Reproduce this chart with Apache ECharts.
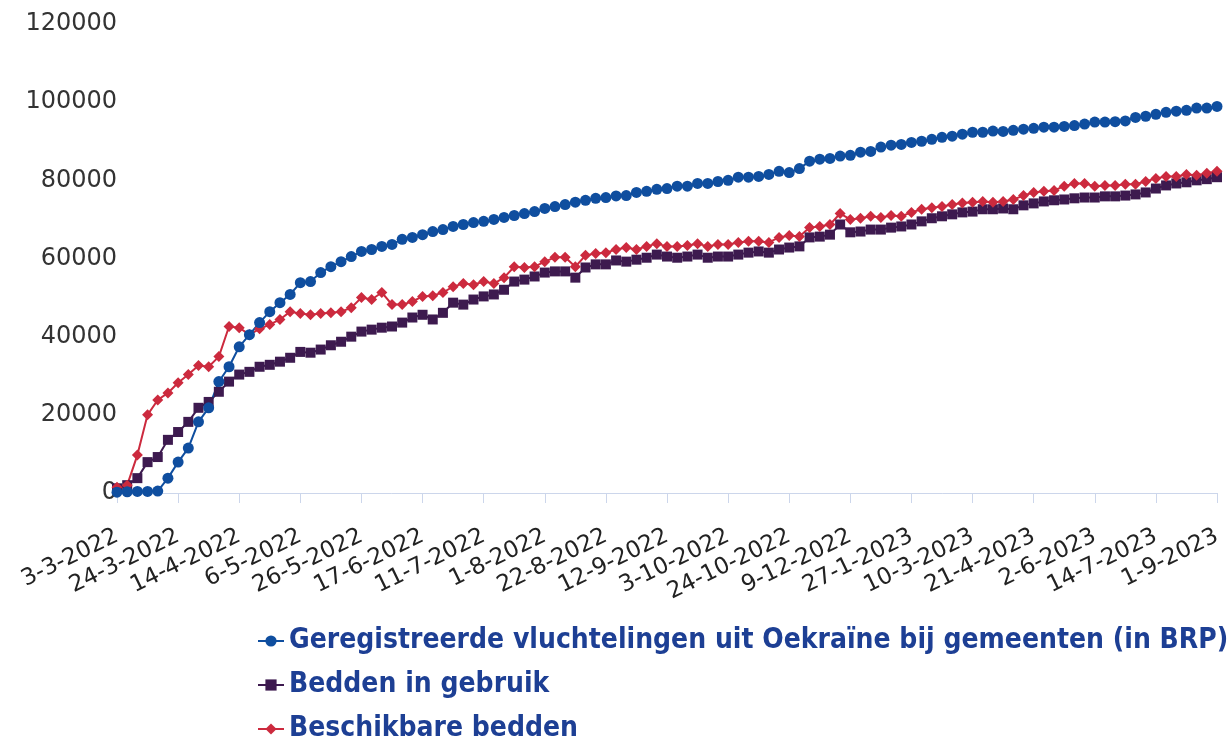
<!DOCTYPE html>
<html>
<head>
<meta charset="utf-8">
<script src="https://cdn.jsdelivr.net/npm/echarts@6/dist/echarts.min.js"></script>
<style>
  html, body { margin: 0; padding: 0; background: #fff; }
  #main { width: 1231px; height: 736px; }
</style>
</head>
<body>
<div id="main"></div>
<script>
// Labels onder de x-as (elke 6e meting)
var tickLabels = ['3-3-2022', '24-3-2022', '14-4-2022', '6-5-2022', '26-5-2022', '17-6-2022',
    '11-7-2022', '1-8-2022', '22-8-2022', '12-9-2022', '3-10-2022', '24-10-2022', '9-12-2022',
    '27-1-2023', '10-3-2023', '21-4-2023', '2-6-2023', '14-7-2023', '1-9-2023'];
var pointsPerLabel = 6;

// Geregistreerde vluchtelingen uit Oekraïne bij gemeenten (in BRP)
var geregistreerd = [200, 300, 400, 400, 500, 3800, 7900, 11500, 18200, 21800,
    28500, 32300, 37400, 40500, 43600, 46400, 48700, 50800, 53800, 54100,
    56400, 57900, 59200, 60500, 61800, 62300, 63100, 63600, 64900, 65400,
    66100, 66900, 67400, 68200, 68700, 69200, 69500, 70000, 70500, 71000,
    71500, 72000, 72800, 73300, 73800, 74400, 74900, 75400, 75600, 76000,
    76100, 76900, 77200, 77700, 77900, 78500, 78500, 79200, 79200, 79700,
    80000, 80800, 80800, 81000, 81500, 82300, 82000, 83000, 84900, 85400,
    85600, 86200, 86400, 87200, 87400, 88500, 89000, 89200, 89700, 90000,
    90500, 91000, 91300, 91800, 92300, 92300, 92600, 92500, 92800, 93100,
    93300, 93600, 93600, 93800, 94000, 94400, 94900, 94900, 95000, 95200,
    96100, 96400, 96900, 97400, 97700, 97900, 98500, 98500, 98900];

// Bedden in gebruik
var beddenInGebruik = [1200, 2000, 3800, 7900, 9200, 13600, 15600, 18200, 21800, 23300,
    25900, 28500, 30300, 31000, 32300, 32800, 33600, 34600, 36100, 35900,
    36700, 37800, 38700, 40000, 41300, 41800, 42300, 42600, 43600, 44900,
    45600, 44400, 46100, 48700, 48200, 49500, 50300, 50800, 52000, 54100,
    54600, 55400, 56400, 56700, 56700, 55100, 57700, 58500, 58500, 59500,
    59200, 59700, 60200, 61000, 60500, 60200, 60500, 61000, 60200, 60500,
    60500, 61000, 61500, 61800, 61500, 62300, 62800, 63100, 65400, 65600,
    66100, 68700, 66700, 66900, 67400, 67400, 67900, 68200, 68700, 69500,
    70300, 70800, 71300, 71800, 72000, 72600, 72600, 72800, 72600, 73600,
    74100, 74600, 74900, 75100, 75400, 75600, 75600, 75900, 75900, 76100,
    76400, 76900, 77900, 78700, 79200, 79500, 80000, 80300, 80800];

// Beschikbare bedden
var beschikbaar = [1500, 2000, 9700, 20000, 23800, 25600, 28200, 30300, 32600, 32300,
    34900, 42600, 42300, 40500, 42000, 43100, 44400, 46400, 45900, 45600,
    45900, 46100, 46400, 47400, 50000, 49500, 51300, 48200, 48200, 49000,
    50300, 50500, 51300, 52800, 53600, 53300, 54100, 53600, 55100, 57900,
    57700, 57900, 59200, 60300, 60300, 57900, 60800, 61300, 61500, 62300,
    62800, 62300, 63100, 63800, 63100, 63100, 63300, 63800, 63100, 63600,
    63600, 64100, 64400, 64400, 64100, 65400, 65900, 65600, 67900, 68200,
    68700, 71500, 70000, 70300, 70800, 70500, 71000, 70800, 71800, 72600,
    73000, 73300, 73800, 74200, 74400, 74600, 74400, 74600, 75100, 76100,
    76900, 77200, 77400, 78500, 79200, 79200, 78500, 78700, 78700, 79000,
    79000, 79700, 80500, 81000, 81000, 81500, 81300, 81800, 82300];

var names = ['Geregistreerde vluchtelingen uit Oekraïne bij gemeenten (in BRP)',
    'Bedden in gebruik', 'Beschikbare bedden'];

// categorieën: alleen elke 6e meting krijgt een label
var categories = [];
for (var i = 0; i < geregistreerd.length; i++) {
    categories.push(i % pointsPerLabel === 0 ? tickLabels[i / pointsPerLabel] : '');
}

var myChart = echarts.init(document.getElementById('main'));
var option = {
    animation: false,
    textStyle: { fontFamily: 'DejaVu Sans' },
    grid: { left: 117, right: 14, top: 24, bottom: 243 },
    legend: {
        orient: 'vertical',
        left: 252,
        top: 621,
        height: 200,
        itemGap: 14,
        itemWidth: 26,
        itemHeight: 14,
        data: names,
        textStyle: {
            fontFamily: 'DejaVu Sans Condensed',
            fontWeight: 'bold',
            fontSize: 28,
            color: '#1d3f94',
            lineHeight: 30
        }
    },
    xAxis: {
        type: 'category',
        boundaryGap: false,
        data: categories,
        axisLine: { lineStyle: { color: '#ccd6eb', width: 1 } },
        axisTick: { interval: pointsPerLabel - 1, length: 10, lineStyle: { color: '#ccd6eb' } },
        axisLabel: {
            interval: pointsPerLabel - 1,
            rotate: 26,
            margin: 42,
            fontSize: 23,
            color: '#222'
        }
    },
    yAxis: {
        type: 'value',
        min: 0,
        max: 120000,
        interval: 20000,
        axisLine: { show: false },
        axisTick: { show: false },
        splitLine: { show: false },
        axisLabel: {
            fontSize: 24,
            color: '#333',
            margin: 0,
            formatter: function (v) { return String(v); }
        }
    },
    series: [
        {
            name: names[1],
            type: 'line',
            data: beddenInGebruik,
            symbol: 'rect',
            symbolSize: 10,
            showAllSymbol: true,
            itemStyle: { color: '#3d1a4f' },
            lineStyle: { color: '#3d1a4f', width: 2 }
        },
        {
            name: names[2],
            type: 'line',
            data: beschikbaar,
            symbol: 'diamond',
            symbolSize: 11,
            showAllSymbol: true,
            itemStyle: { color: '#cc2a3e' },
            lineStyle: { color: '#cc2a3e', width: 2 }
        },
        {
            name: names[0],
            type: 'line',
            data: geregistreerd,
            symbol: 'circle',
            symbolSize: 11,
            showAllSymbol: true,
            itemStyle: { color: '#0f4e9f' },
            lineStyle: { color: '#0f4e9f', width: 2 }
        }
    ]
};
myChart.setOption(option);
</script>
</body>
</html>
